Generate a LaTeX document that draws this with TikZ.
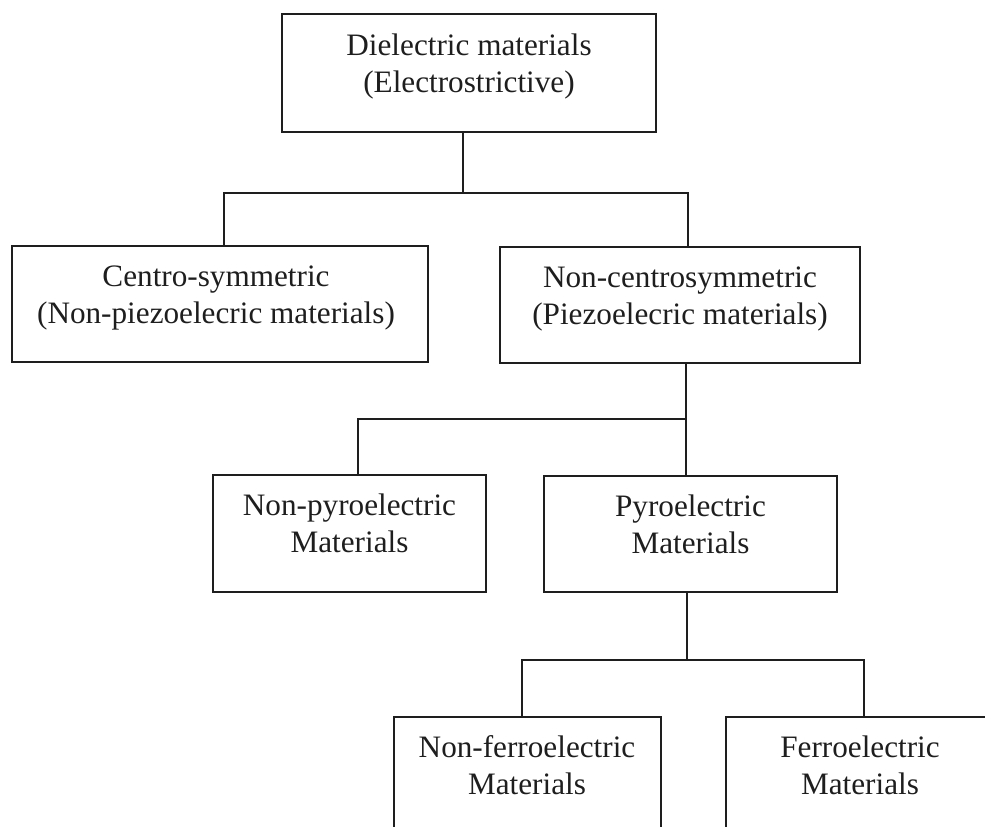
\documentclass[tikz,border=0pt]{standalone}
\usepackage{fontspec}
\setmainfont{Liberation Serif}
\definecolor{ink}{HTML}{1E1E1E}
\newcommand\twoln[2]{\begin{tabular}[t]{@{}c@{}}#1\\#2\end{tabular}}
\begin{document}
\begin{tikzpicture}[x=0.5pt,y=-0.5pt,
  box/.style={draw=ink, line width=0.9pt, inner sep=0pt, rectangle},
  txt/.style={anchor=base, inner sep=0pt, text=ink, font=\fontsize{15.6}{18.5}\selectfont},
  conn/.style={draw=ink, line width=0.7pt}]
\useasboundingbox (0,0) rectangle (985,826);
\clip (0,0) rectangle (985,826);

% boxes
\node[box, minimum width=187pt, minimum height=59pt] (A) at (469,73) {};
\node[box, minimum width=208pt, minimum height=58pt] (B) at (220,304) {};
\node[box, minimum width=180pt, minimum height=58pt] (C) at (680,305) {};
\node[box, minimum width=136.5pt, minimum height=58.5pt] (D) at (349.5,533.5) {};
\node[box, minimum width=146.5pt, minimum height=58pt] (E) at (690.5,534) {};
\node[box, minimum width=133.5pt, minimum height=58pt] (F) at (527.5,775) {};
\node[box, minimum width=134pt, minimum height=58pt] (G) at (860,775) {};

% texts
\node[txt] (At) at (469,55) {\twoln{Dielectric materials}{(Electrostrictive)}};
\node[txt] (Bt) at (216,286) {\twoln{Centro-symmetric}{(Non-piezoelecric materials)}};
\node[txt] (Ct) at (680,287) {\twoln{Non-centrosymmetric}{(Piezoelecric materials)}};
\node[txt] (Dt) at (349.5,515) {\twoln{Non-pyroelectric}{Materials}};
\node[txt] (Et) at (690.5,516) {\twoln{Pyroelectric}{Materials}};
\node[txt] (Ft) at (527,757) {\twoln{Non-ferroelectric}{Materials}};
\node[txt] (Gt) at (860,757) {\twoln{Ferroelectric}{Materials}};

% junctions
\coordinate (j1) at (463,193);
\coordinate (j2) at (686,419);
\coordinate (j3) at (687,660);

% level 1
\draw[conn] (j1 |- A.south) -- (j1);
\draw[conn] ([xshift=2pt]B.north) |- (j1) -| ([xshift=4pt]C.north);
% level 2
\draw[conn] (j2 |- C.south) -- (j2 |- E.north);
\draw[conn] (j2) -| ([xshift=4.25pt]D.north);
% level 3
\draw[conn] (j3 |- E.south) -- (j3);
\draw[conn] ([xshift=-2.75pt]F.north) |- (j3) -| ([xshift=2pt]G.north);
\end{tikzpicture}
\end{document}
